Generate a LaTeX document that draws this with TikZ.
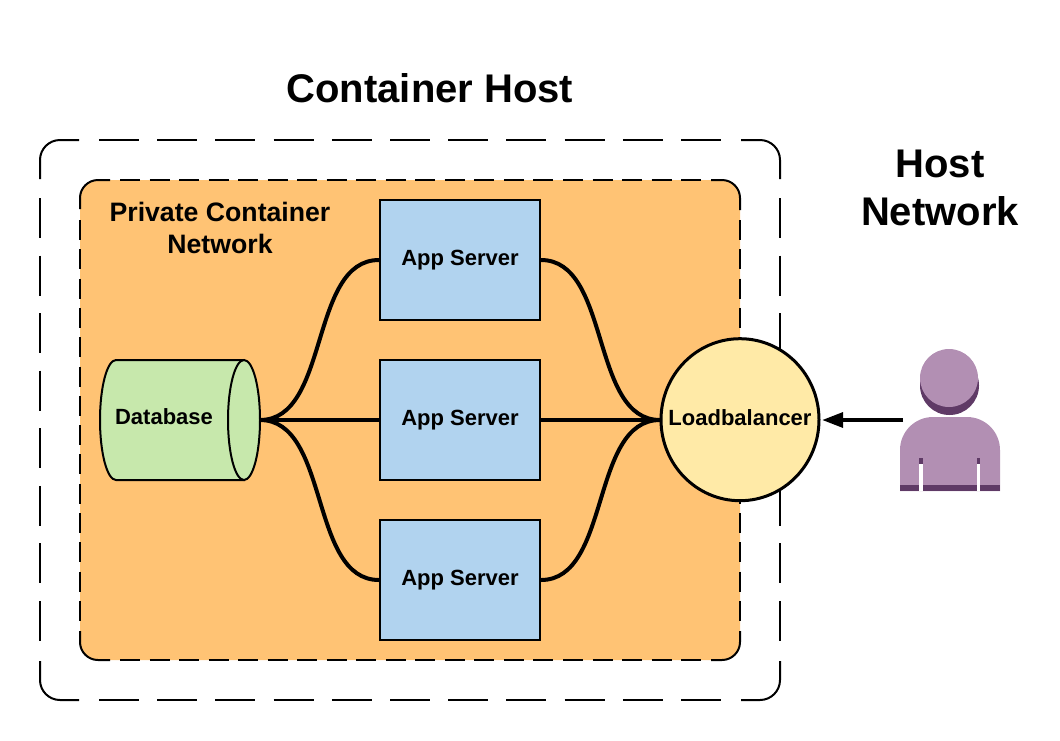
\documentclass[tikz,border=0pt]{standalone}
\usepackage{fontspec}
\setmainfont{Liberation Sans}
\usetikzlibrary{arrows.meta}
\definecolor{orangefill}{HTML}{FFC374}
\definecolor{bluefill}{HTML}{B1D3EF}
\definecolor{greenfill}{HTML}{C7E8AC}
\definecolor{yellowfill}{HTML}{FFEAA7}
\definecolor{userlight}{HTML}{B28FB3}
\definecolor{userdark}{HTML}{5F3A66}
\tikzset{
	boxfont/.style={font=\bfseries\fontsize{16.5}{19}\selectfont},
	appbox/.style={draw, line width=1.5pt, fill=bluefill, minimum width=120pt, minimum height=90pt, inner sep=0pt, boxfont},
	wire/.style={line width=3pt},
	edge/.style={line width=1.5pt},
	bigtitle/.style={font=\bfseries\fontsize{30}{36}\selectfont, align=center, inner sep=0pt},
	smalltitle/.style={font=\bfseries\fontsize{20}{24}\selectfont, align=center, inner sep=0pt},
}

\begin{document}
\begin{tikzpicture}[x=0.75pt, y=-0.75pt]
			%%%%% START %%%%%
			\useasboundingbox (0, 0) rectangle (1060, 740);
			
			% container host
			\draw[edge, rounded corners=15pt] (40, 179) -- (40, 140) -- (79, 140);
			\draw[edge, rounded corners=15pt] (741, 140) -- (780, 140) -- (780, 179);
			\draw[edge, rounded corners=15pt] (780, 661) -- (780, 700) -- (741, 700);
			\draw[edge, rounded corners=15pt] (79, 700) -- (40, 700) -- (40, 661);
			\draw[edge, dash pattern=on 30pt off 13.65pt] (99, 140) -- (721, 140);
			\draw[edge, dash pattern=on 30pt off 13.65pt] (99, 700) -- (721, 700);
			\draw[edge, dash pattern=on 30pt off 13.18pt] (40, 198) -- (40, 641);
			\draw[edge, dash pattern=on 30pt off 13.18pt] (780, 198) -- (780, 641);
			
			% private network
			\fill[orangefill, rounded corners=13.5pt] (80, 180) rectangle (740, 660);
			\draw[edge, rounded corners=13.5pt] (80, 209) -- (80, 180) -- (110, 180);
			\draw[edge, rounded corners=13.5pt] (711, 180) -- (740, 180) -- (740, 210);
			\draw[edge, rounded corners=13.5pt] (740, 631) -- (740, 660) -- (711, 660);
			\draw[edge, rounded corners=13.5pt] (110, 660) -- (80, 660) -- (80, 631);
			\draw[edge, dash pattern=on 15pt off 7.15pt] (120, 180) -- (701, 180);
			\draw[edge, dash pattern=on 15pt off 7.15pt] (120, 660) -- (701, 660);
			\draw[edge, dash pattern=on 15pt off 6.98pt] (80, 220) -- (80, 621);
			\draw[edge, dash pattern=on 15pt off 6.98pt] (740, 220) -- (740, 621);
			
			\node[bigtitle] (hosttitle) at (430, 88) {Container Host};
			\node[bigtitle] (nettitle) at (940, 188) {Host\\Network};
			\node[smalltitle] (privtitle) at (220, 228) {Private Container\\Network};
			
			\node[appbox] (app1) at (460, 260) {\raisebox{3.75pt}{App Server}};
			\node[appbox] (app2) at (460, 420) {\raisebox{3.75pt}{App Server}};
			\node[appbox] (app3) at (460, 580) {\raisebox{3.75pt}{App Server}};
			
			\draw[edge, fill=greenfill] (116, 360) -- (244, 360) -- (244, 480) -- (116, 480) arc (90:270:16 and 60) -- cycle;
			\draw[edge, fill=greenfill] (244, 420) ellipse (16 and 60);
			\node[boxfont, inner sep=0pt] (db) at (164, 417) {Database};
			\coordinate (dbout) at (260, 420);
			
			\draw[line width=2.25pt, fill=yellowfill] (740, 419.7) ellipse (79 and 81);
			\node[circle, minimum size=120pt, inner sep=0pt, outer sep=0pt, boxfont] (lb) at (740, 420) {\raisebox{3.75pt}{Loadbalancer}};
			
			\foreach \n in {1,2,3} {
				\draw[wire] (dbout) to[out=0, in=180, looseness=0.9] (app\n.west);
				\draw[wire] (app\n.east) to[out=0, in=180, looseness=0.9] (lb.west);
			}
			
			\coordinate (user) at (903, 420);
			\draw[line width=3pt, -{Stealth[length=15.75pt, width=11pt, inset=0pt]}] (user) -- ([xshift=1.5pt]lb.east);
			
			\fill[userdark] (949.5, 385.5) circle (29.5);
			\fill[userlight] (949, 378) circle (29);
			\fill[userlight] (900, 491) -- (900, 450) arc (180:270:33) -- (967, 417) arc (270:360:33) -- (1000, 491) -- cycle;
			\fill[userdark] (900, 485) rectangle (1000, 491);
			\fill[userdark] (919, 458) rectangle (923, 464);
			\fill[userdark] (977, 458) rectangle (980, 464);
			\fill[white] (919, 464) rectangle (923, 491);
			\fill[white] (977, 464) rectangle (980, 491);
			%%%%% END %%%%%
\end{tikzpicture}
\end{document}
